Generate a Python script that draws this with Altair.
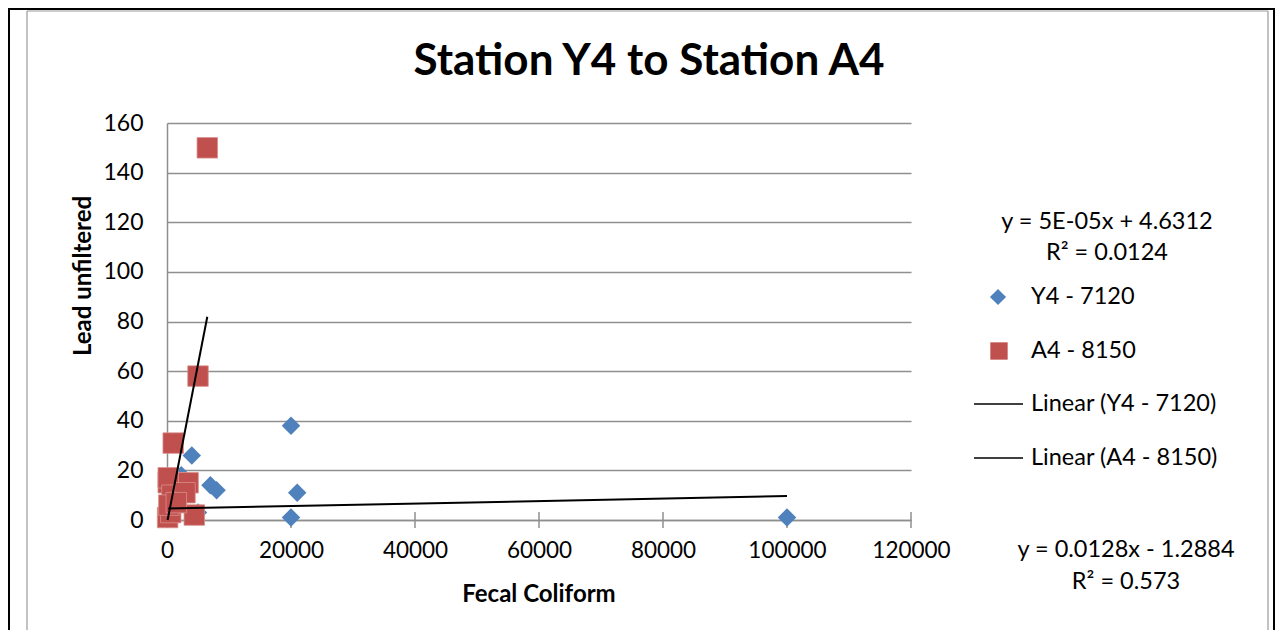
import altair as alt
import pandas as pd

# ---- data ----
y4_fecal = [200, 20000, 21000, 20000, 100000, 7000, 8000, 4000, 2300, 5000]
y4_lead = [3, 38, 11, 1, 1, 14, 12, 26, 18, 3]

a4_fecal = [6500, 5000, 1000, 200, 1800, 3400, 200, 800, 2900, 100, 600, 4400, 300, 1500]
a4_lead = [150, 58, 31, 15, 15, 15, 17, 10, 11, 1, 3, 2, 6, 7]

y4_trend_x = [200, 100000]
y4_trend_y = [4.64, 9.63]
a4_trend_x = [100, 6500]
a4_trend_y = [0.0, 81.9]

x_ticks = [0, 20000, 40000, 60000, 80000, 100000, 120000]
y_ticks = [0, 20, 40, 60, 80, 100, 120, 140, 160]

title_text = "Station Y4 to Station A4"
x_title = "Fecal Coliform"
y_title = "Lead unfiltered"
series_names = ["Y4 - 7120", "A4 - 8150", "Linear (Y4 - 7120)", "Linear (A4 - 8150)"]
eq1 = ["y = 5E-05x + 4.6312", "R² = 0.0124"]
eq2 = ["y = 0.0128x - 1.2884", "R² = 0.573"]

BLUE = "#4F81BD"
RED = "#C0504D"
GRID = "#8f8f8f"
FONT = "Lato"

W, H = 744, 397
OX, OY = 167, 123  # page position of plot origin


def px(v):
    return v - OX


def py(v):
    return v - OY


y4 = pd.DataFrame({"fecal": y4_fecal, "lead": y4_lead})
a4 = pd.DataFrame({"fecal": a4_fecal, "lead": a4_lead})
y4t = pd.DataFrame({"fecal": y4_trend_x, "lead": y4_trend_y})
a4t = pd.DataFrame({"fecal": a4_trend_x, "lead": a4_trend_y})
ticks = pd.DataFrame({"fecal": x_ticks})
dummy = pd.DataFrame({"a": [0]})

xscale = alt.Scale(domain=[0, 120000], nice=False, zero=False)
yscale = alt.Scale(domain=[0, 160], nice=False, zero=False)

x_enc = alt.X("fecal:Q", scale=xscale, title=None,
              axis=alt.Axis(values=x_ticks, grid=False, ticks=False, domainColor=GRID,
                            domainWidth=1.5, labelPadding=19, labelFontSize=22.5,
                            labelColor="black", labelFont=FONT, format="d", title=None,
                            labelFlush=False))
y_enc = alt.Y("lead:Q", scale=yscale, title=None,
              axis=alt.Axis(values=y_ticks, grid=True, gridColor=GRID, gridWidth=1.5,
                            ticks=False, domainColor=GRID, domainWidth=1.5,
                            labelPadding=24, labelFontSize=23, labelColor="black",
                            labelFont=FONT, title=None, format="d"))

layers = []

# cross ticks on x axis
layers.append(alt.Chart(ticks).mark_rule(color=GRID, strokeWidth=1.5).encode(
    x=x_enc, y=alt.value(H - 8), y2=alt.value(H + 8)))

layers.append(alt.Chart(y4).mark_point(shape="diamond", filled=True, size=340,
                                       color=BLUE, opacity=1).encode(x=x_enc, y=y_enc))
layers.append(alt.Chart(a4).mark_point(shape="square", filled=True, size=420,
                                       color=RED, opacity=1, stroke="#d98f8d",
                                       strokeWidth=0.8).encode(x=x_enc, y=y_enc))
layers.append(alt.Chart(y4t).mark_line(color="black", strokeWidth=2).encode(x=x_enc, y=y_enc))
layers.append(alt.Chart(a4t).mark_line(color="black", strokeWidth=2).encode(x=x_enc, y=y_enc))


def text(t, x, y, size=23.5, bold=False, align="center", angle=0):
    kw = dict(text=t, font=FONT, fontSize=size, align=align, baseline="middle",
              color="black", fontWeight="bold" if bold else "normal")
    if angle:
        kw["angle"] = angle
    return alt.Chart(dummy).mark_text(**kw).encode(x=alt.value(px(x)), y=alt.value(py(y)))


def hline(x1, x2, y, color, w):
    return alt.Chart(dummy).mark_rule(color=color, strokeWidth=w).encode(
        x=alt.value(px(x1)), x2=alt.value(px(x2)), y=alt.value(py(y)))


def vline(x, y1, y2, color, w):
    return alt.Chart(dummy).mark_rule(color=color, strokeWidth=w).encode(
        x=alt.value(px(x)), y=alt.value(py(y1)), y2=alt.value(py(y2)))


# frames
layers.append(hline(8, 1275, 9, "black", 2))
layers.append(vline(9, 8, 640, "black", 2))
layers.append(vline(1274, 8, 640, "black", 2))
layers.append(hline(27, 1268, 11, "#9a9a9a", 1.2))
layers.append(vline(27, 11, 640, "#9a9a9a", 1.2))
layers.append(vline(1268, 11, 640, "#9a9a9a", 1.2))

# titles
layers.append(text(title_text, 649, 62, size=44, bold=True))
layers.append(text(x_title, 539, 595, size=24, bold=True))
layers.append(text(y_title, 84, 276, size=24, bold=True, angle=270))

# legend
layers.append(text(eq1[0], 1107, 222))
layers.append(text(eq1[1], 1107, 253))
layers.append(alt.Chart(dummy).mark_point(shape="diamond", filled=True, size=260, color=BLUE,
                                          opacity=1).encode(x=alt.value(px(998)), y=alt.value(py(297))))
layers.append(alt.Chart(dummy).mark_point(shape="square", filled=True, size=300, color=RED,
                                          opacity=1).encode(x=alt.value(px(999)), y=alt.value(py(351))))
layers.append(text(series_names[0], 1031, 297, align="left"))
layers.append(text(series_names[1], 1031, 351, align="left"))
layers.append(hline(974, 1023, 404, "black", 1.5))
layers.append(hline(974, 1023, 458, "black", 1.5))
layers.append(text(series_names[2], 1031, 404, align="left"))
layers.append(text(series_names[3], 1031, 458, align="left"))
layers.append(text(eq2[0], 1126, 550))
layers.append(text(eq2[1], 1126, 582))

chart = alt.layer(*layers).properties(
    width=W, height=H,
    padding={"left": 159, "top": 115, "right": 364, "bottom": 110},
    autosize=alt.AutoSizeParams(type="none"),
    background="white",
).configure_view(stroke=None).configure_axis(labelFont=FONT)

chart.save("out.html", embed_options={"renderer": "svg", "actions": False})
